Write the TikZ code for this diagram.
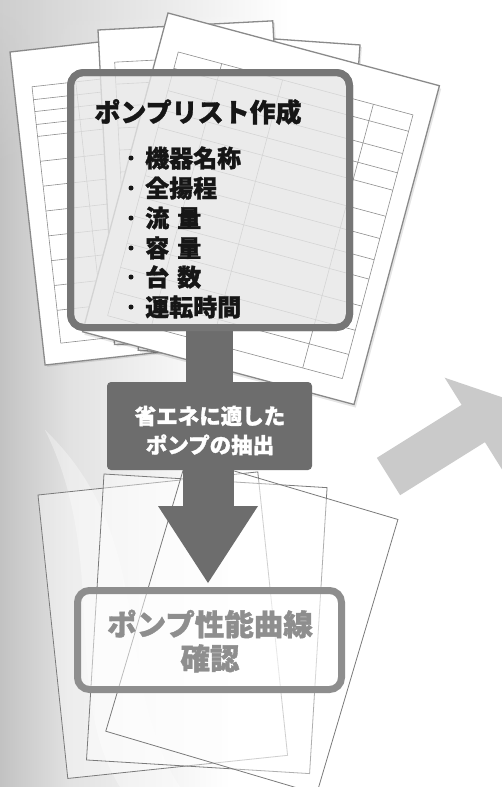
\documentclass[tikz,border=0pt]{standalone}
\usepackage{fontspec}
\newfontfamily\jp{Noto Sans CJK JP}[BoldFeatures={FakeBold=1.2}]
\usetikzlibrary{fadings}
\definecolor{bgL}{HTML}{C2C2C2}
\definecolor{bgM}{HTML}{E2E2E2}
\definecolor{bgT}{HTML}{CFCFCF}
\definecolor{pline}{HTML}{8A8A8A}
\definecolor{tgray}{HTML}{8E8E8E}
\definecolor{bline}{HTML}{7A7A7A}
\definecolor{boxgray}{HTML}{767676}
\definecolor{boxfill}{HTML}{E6E6E6}
\definecolor{arrgray}{HTML}{6D6D6D}
\definecolor{box2gray}{HTML}{8E8E8E}
\definecolor{ragray}{HTML}{CACACA}
\definecolor{txtblack}{HTML}{161616}
\begin{document}
\begin{tikzpicture}[x=1pt,y=-1pt,
  paperst/.style={draw=pline, line width=1.3pt, fill=white},
  shadowst/.style={fill=black, fill opacity=0.10},
  tablel/.style={draw=tgray, line width=0.6pt},
  bpaper/.style={draw=bline, line width=0.8pt, fill=white, fill opacity=0.4},
  listbox/.style={draw=boxgray, line width=7pt, rounded corners=13pt, fill=boxfill, fill opacity=0.8, inner sep=0pt},
  basebox/.style={fill=arrgray, rounded corners=4pt, inner sep=0pt},
  checkbox/.style={draw=box2gray, line width=7pt, rounded corners=12pt, fill=white, fill opacity=0.5, inner sep=0pt},
  bul/.style={circle, fill=txtblack, inner sep=0pt, minimum size=5pt},
  jptitle/.style={font=\jp\bfseries\fontsize{26}{30}\selectfont, text=txtblack},
  jpitem/.style={font=\jp\bfseries\fontsize{24}{26}\selectfont, text=txtblack, anchor=west, inner sep=0pt},
  jparrow/.style={font=\jp\bfseries\fontsize{21.5}{29}\selectfont, text=white, align=center},
  jpcheck/.style={font=\jp\bfseries\fontsize{29.5}{34}\selectfont, text=box2gray, align=center}
]
\useasboundingbox (0,0) rectangle (501,787);
% ---------- background ----------
\fill[white] (0,0) rectangle (501,787);
\shade[left color=bgL, right color=bgM] (0,0) rectangle (70,787);
\shade[left color=bgM, right color=white] (70,0) rectangle (230,787);
\shade[left color=bgT, middle color=bgT, right color=white, path fading=south] (0,0) rectangle (290,170);
\fill[white, fill opacity=0.35] (45,430) .. controls (110,560) and (60,690) .. (120,787) -- (180,787) .. controls (110,680) and (160,540) .. (45,430) -- cycle;
% ---------- top papers ----------
% paper A
\begin{scope}[shift={(10,52)}, rotate=6.4]
  \fill[shadowst] (2,2) rectangle (252,317);
  \path[paperst] (0,0) rectangle (250,315);
  \foreach \r in {37,50,62,75,87,112,137,162,187,212,237,262,295}
    \draw[tablel] (18,\r) -- (232,\r);
  \foreach \c in {18,62,130,232}
    \draw[tablel] (\c,37) -- (\c,295);
\end{scope}
% paper D
\begin{scope}[shift={(160.5,31)}, rotate=-4]
  \fill[shadowst] (2,2) rectangle (202,322);
  \path[paperst] (0,0) rectangle (200,320);
\end{scope}
% paper B
\begin{scope}[shift={(98,30)}, rotate=3]
  \fill[shadowst] (2,2) rectangle (177,317);
  \path[paperst] (0,0) rectangle (175,315);
  \foreach \r in {33,55,77,99,121,143,165,187,209,231,253,275,295}
    \draw[tablel] (15,\r) -- (160,\r);
  \foreach \c in {15,60,110,160}
    \draw[tablel] (\c,33) -- (\c,295);
\end{scope}
% paper C
\begin{scope}[shift={(168,13)}, rotate=-15]
  \fill[shadowst] (2.5,2.5) rectangle (283.5,332.5);
  \path[paperst] (0,0) rectangle (281,330);
  \foreach \r in {35,52,75,95,113,140,163,185,205,233,258,283,308}
    \draw[tablel] (20,\r) -- (263,\r);
  \foreach \c in {20,65,128,222,263}
    \draw[tablel] (\c,35) -- (\c,308);
\end{scope}
% ---------- bottom papers ----------
\begin{scope}[shift={(38,495)}, rotate=6]
  \path[bpaper] (0,0) rectangle (221,285);
\end{scope}
\begin{scope}[shift={(104,474)}, rotate=-3.5]
  \path[bpaper] (0,0) rectangle (223.5,286.5);
\end{scope}
\begin{scope}[shift={(187,457)}, rotate=-16.5]
  \path[bpaper] (0,0) rectangle (220,286);
\end{scope}
% ---------- right grey arrow ----------
\begin{scope}[shift={(388.5,476.5)}, rotate=32]
  \fill[ragray] (0,-22) -- (100,-22) -- (100,-54) -- (144,0) -- (100,54) -- (100,22) -- (0,22) -- cycle;
\end{scope}
% ---------- main flow ----------
\node[basebox, minimum width=205pt, minimum height=88pt] (base) at (209.5,426) {};
\node[listbox, minimum width=279pt, minimum height=255pt] (box1) at (210,200) {};
\node[checkbox, minimum width=264pt, minimum height=99pt] (box2) at (209.5,640) {};
\coordinate (tipL) at (158,506);
\coordinate (tipR) at (258,506);
\coordinate (tip) at (208,583);
% connector from list box to base, and from base to the arrow head
\fill[arrgray] ([xshift=-24.5pt]box1.south) rectangle ([xshift=23pt]base.north);
\fill[arrgray] ([xshift=-27pt]base.south) rectangle ([xshift=24pt,yshift=-37pt]base.south);
\fill[arrgray] (tipL) -- (tipR) -- (tip) -- cycle;
% redraw the list box border over the stem
\node[listbox, fill=none, minimum width=279pt, minimum height=255pt] (box1b) at (210,200) {};
% ---------- texts ----------
\node[jptitle] (title) at (198,112) {ポンプリスト作成};
\node[bul] (b1) at (131,158) {};
\node[bul] (b2) at (131,188) {};
\node[bul] (b3) at (131,218) {};
\node[bul] (b4) at (131,248) {};
\node[bul] (b5) at (131,277) {};
\node[bul] (b6) at (131,307) {};
\node[jpitem] (i1) at (145,158) {機器名称};
\node[jpitem] (i2) at (145,188) {全揚程};
\node[jpitem] (i3) at (145,218) {流\hspace{8pt}量};
\node[jpitem] (i4) at (145,248) {容\hspace{8pt}量};
\node[jpitem] (i5) at (145,277) {台\hspace{8pt}数};
\node[jpitem] (i6) at (145,307) {運転時間};
\node[jparrow] (arrtxt) at (210,430.5) {省エネに適した\\ポンプの抽出};
\node[jpcheck] (chktxt) at (210,641) {ポンプ性能曲線\\確認};
\end{tikzpicture}
\end{document}
